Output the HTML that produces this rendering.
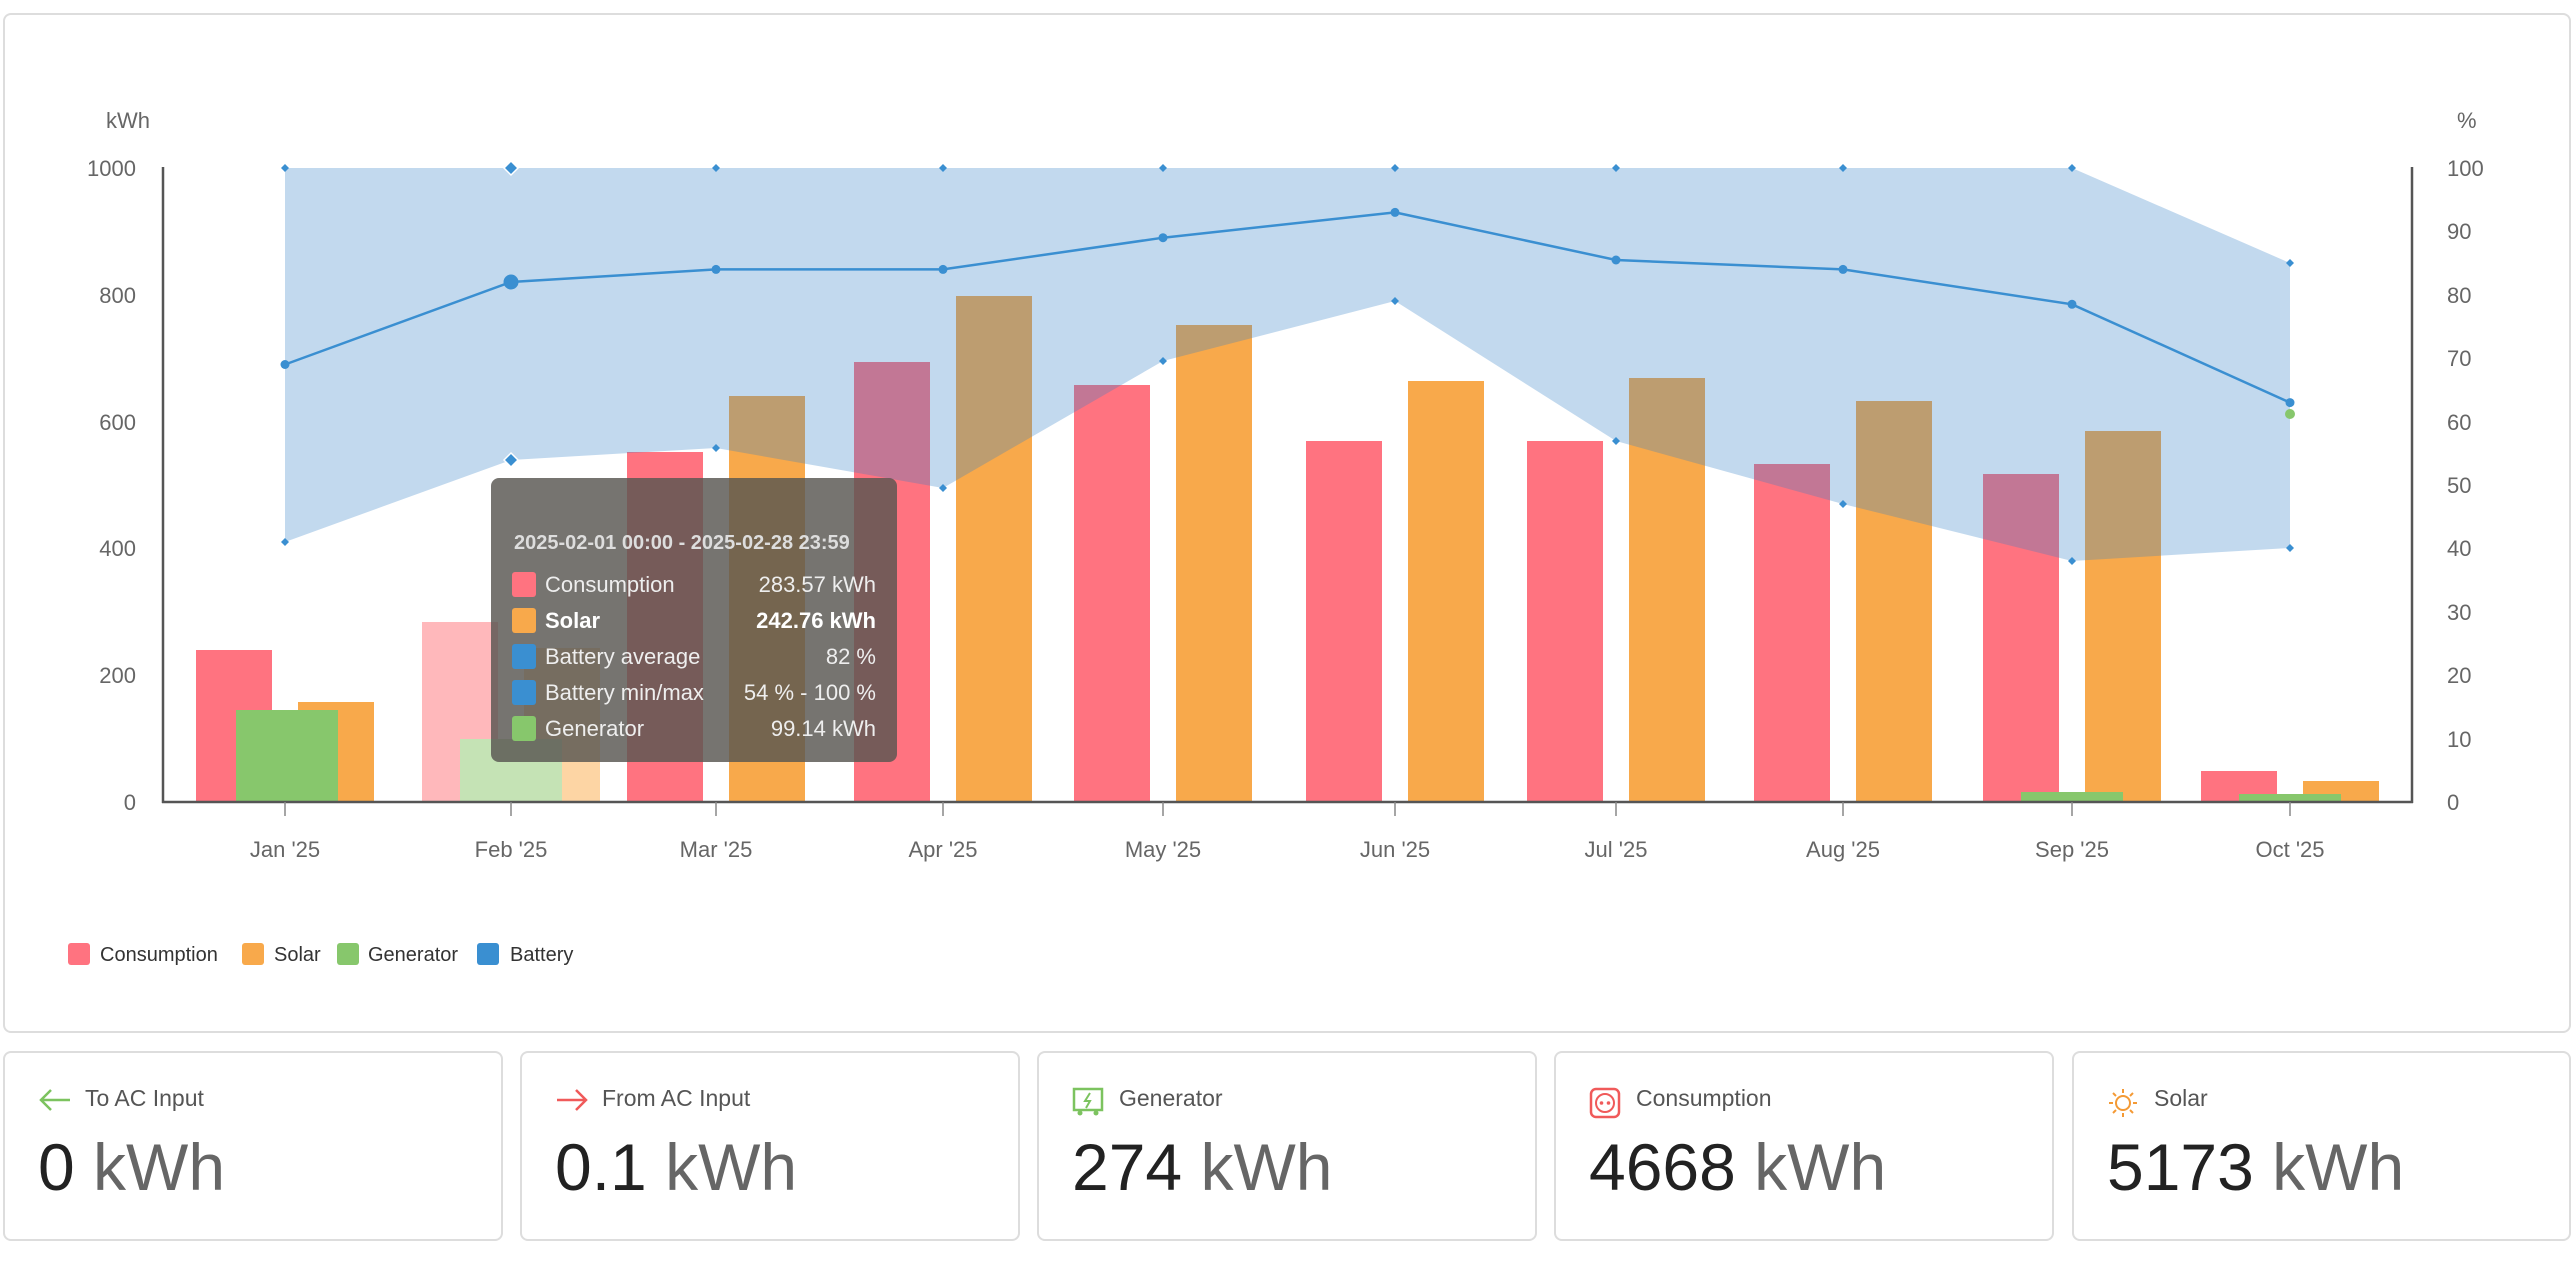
<!DOCTYPE html>
<html><head><meta charset="utf-8"><style>
body{margin:0;background:#fff;width:2576px;height:1284px;overflow:hidden;font-family:"Liberation Sans",sans-serif}
.card{position:absolute;border:2px solid #ddd;border-radius:8px;background:#fff;box-sizing:border-box}
.t{position:absolute;left:80px;top:32px;font-size:23px;color:#555}
.ic{position:absolute;left:33px;top:34px}
.v{position:absolute;left:33px;top:76px;font-size:66px;color:#222}
.v span{color:#666}
</style></head><body>
<div class="card" style="left:3px;top:13px;width:2568px;height:1020px"></div>
<svg style="position:absolute;left:0;top:0" width="2576" height="1040" font-family="Liberation Sans, sans-serif">
<g fill="#666" font-size="22">
<text x="106" y="128">kWh</text><text x="2457" y="128">%</text>
<g text-anchor="end"><text x="136" y="176">1000</text><text x="136" y="303">800</text><text x="136" y="430">600</text><text x="136" y="556">400</text><text x="136" y="683">200</text><text x="136" y="810">0</text></g>
<g><text x="2447" y="176">100</text><text x="2447" y="239">90</text><text x="2447" y="303">80</text><text x="2447" y="366">70</text><text x="2447" y="430">60</text><text x="2447" y="493">50</text><text x="2447" y="556">40</text><text x="2447" y="620">30</text><text x="2447" y="683">20</text><text x="2447" y="747">10</text><text x="2447" y="810">0</text></g>
<g text-anchor="middle"><text x="285" y="857">Jan '25</text><text x="511" y="857">Feb '25</text><text x="716" y="857">Mar '25</text><text x="943" y="857">Apr '25</text><text x="1163" y="857">May '25</text><text x="1395" y="857">Jun '25</text><text x="1616" y="857">Jul '25</text><text x="1843" y="857">Aug '25</text><text x="2072" y="857">Sep '25</text><text x="2290" y="857">Oct '25</text></g>
</g>
<!-- bars -->
<g>
<rect x="196" y="650" width="76" height="152" fill="#ff7380"/><rect x="298" y="702" width="76" height="100" fill="#f8a94b"/><rect x="236" y="710" width="102" height="92" fill="#87c76c"/>
<rect x="422" y="622" width="76" height="180" fill="#ffb8bb"/><rect x="524" y="648" width="76" height="154" fill="#fdd5a4"/><rect x="460" y="739" width="102" height="63" fill="#c5e3b5"/>
<rect x="627" y="452" width="76" height="350" fill="#ff7380"/><rect x="729" y="396" width="76" height="406" fill="#f8a94b"/>
<rect x="854" y="362" width="76" height="440" fill="#ff7380"/><rect x="956" y="296" width="76" height="506" fill="#f8a94b"/>
<rect x="1074" y="385" width="76" height="417" fill="#ff7380"/><rect x="1176" y="325" width="76" height="477" fill="#f8a94b"/>
<rect x="1306" y="441" width="76" height="361" fill="#ff7380"/><rect x="1408" y="381" width="76" height="421" fill="#f8a94b"/>
<rect x="1527" y="441" width="76" height="361" fill="#ff7380"/><rect x="1629" y="378" width="76" height="424" fill="#f8a94b"/>
<rect x="1754" y="464" width="76" height="338" fill="#ff7380"/><rect x="1856" y="401" width="76" height="401" fill="#f8a94b"/>
<rect x="1983" y="474" width="76" height="328" fill="#ff7380"/><rect x="2085" y="431" width="76" height="371" fill="#f8a94b"/><rect x="2021" y="792" width="102" height="10" fill="#87c76c"/>
<rect x="2201" y="771" width="76" height="31" fill="#ff7380"/><rect x="2303" y="781" width="76" height="21" fill="#f8a94b"/><rect x="2239" y="794" width="102" height="8" fill="#87c76c"/>
</g>
<polygon fill="rgba(52,130,200,0.3)" points="285,168 511,168 716,168 943,168 1163,168 1395,168 1616,168 1843,168 2072,168 2290,263 2290,548 2072,561 1843,504 1616,441 1395,301 1163,361 943,488 716,448 511,460 285,542"/>
<polyline fill="none" stroke="#3a8fd1" stroke-width="2.5" points="285,364.5 511,282 716,269.4 943,269.4 1163,237.7 1395,212.4 1616,260 1843,269.4 2072,304.3 2290,402.6"/>
<g fill="#3a8fd1">
<circle cx="285" cy="364.5" r="4.5"/><circle cx="511" cy="282" r="7.5"/><circle cx="716" cy="269.4" r="4.5"/><circle cx="943" cy="269.4" r="4.5"/><circle cx="1163" cy="237.7" r="4.5"/><circle cx="1395" cy="212.4" r="4.5"/><circle cx="1616" cy="260" r="4.5"/><circle cx="1843" cy="269.4" r="4.5"/><circle cx="2072" cy="304.3" r="4.5"/><circle cx="2290" cy="402.6" r="4.5"/>
<g transform="translate(0,0)">
<path d="M285 164l4 4-4 4-4-4z M716 164l4 4-4 4-4-4z M943 164l4 4-4 4-4-4z M1163 164l4 4-4 4-4-4z M1395 164l4 4-4 4-4-4z M1616 164l4 4-4 4-4-4z M1843 164l4 4-4 4-4-4z M2072 164l4 4-4 4-4-4z M2290 259l4 4-4 4-4-4z"/>
<path d="M511 161l7 7-7 7-7-7z M511 453l7 7-7 7-7-7z" stroke="#fff" stroke-width="1.5"/>
<path d="M285 538l4 4-4 4-4-4z M716 444l4 4-4 4-4-4z M943 484l4 4-4 4-4-4z M1163 357l4 4-4 4-4-4z M1395 297l4 4-4 4-4-4z M1616 437l4 4-4 4-4-4z M1843 500l4 4-4 4-4-4z M2072 557l4 4-4 4-4-4z M2290 544l4 4-4 4-4-4z"/>
</g></g>
<circle cx="2290" cy="414" r="5" fill="#87c76c"/>
<!-- axes -->
<g stroke="#555" stroke-width="2.5" fill="none">
<line x1="163" y1="167" x2="163" y2="803"/><line x1="2412" y1="167" x2="2412" y2="803"/><line x1="162" y1="802" x2="2413" y2="802"/>
</g>
<g stroke="#888" stroke-width="1.5">
<line x1="285" y1="802" x2="285" y2="816"/><line x1="511" y1="802" x2="511" y2="816"/><line x1="716" y1="802" x2="716" y2="816"/><line x1="943" y1="802" x2="943" y2="816"/><line x1="1163" y1="802" x2="1163" y2="816"/><line x1="1395" y1="802" x2="1395" y2="816"/><line x1="1616" y1="802" x2="1616" y2="816"/><line x1="1843" y1="802" x2="1843" y2="816"/><line x1="2072" y1="802" x2="2072" y2="816"/><line x1="2290" y1="802" x2="2290" y2="816"/>
</g>
<!-- tooltip -->
<rect x="491" y="478" width="406" height="284" rx="8" fill="rgba(88,86,80,0.82)"/>
<g font-size="22" fill="#eee">
<text x="514" y="549" font-weight="bold" font-size="20" fill="#ddd">2025-02-01 00:00 - 2025-02-28 23:59</text>
<rect x="512" y="572" width="24" height="25" rx="3" fill="#ff7380"/><text x="545" y="592">Consumption</text><text x="876" y="592" text-anchor="end">283.57 kWh</text>
<rect x="512" y="608" width="24" height="25" rx="3" fill="#f8a94b"/><text x="545" y="628" font-weight="bold" fill="#fff">Solar</text><text x="876" y="628" text-anchor="end" font-weight="bold" fill="#fff">242.76 kWh</text>
<rect x="512" y="644" width="24" height="25" rx="3" fill="#3a8fd1"/><text x="545" y="664">Battery average</text><text x="876" y="664" text-anchor="end">82 %</text>
<rect x="512" y="680" width="24" height="25" rx="3" fill="#3a8fd1"/><text x="545" y="700">Battery min/max</text><text x="876" y="700" text-anchor="end">54 % - 100 %</text>
<rect x="512" y="716" width="24" height="25" rx="3" fill="#87c76c"/><text x="545" y="736">Generator</text><text x="876" y="736" text-anchor="end">99.14 kWh</text>
</g>
<!-- legend -->
<g font-size="20" fill="#333">
<rect x="68" y="943" width="22" height="22" rx="3" fill="#ff7380"/><text x="100" y="961">Consumption</text>
<rect x="242" y="943" width="22" height="22" rx="3" fill="#f8a94b"/><text x="274" y="961">Solar</text>
<rect x="337" y="943" width="22" height="22" rx="3" fill="#87c76c"/><text x="368" y="961">Generator</text>
<rect x="477" y="943" width="22" height="22" rx="3" fill="#3a8fd1"/><text x="510" y="961">Battery</text>
</g>
</svg>

<div class="card" style="left:3px;top:1051px;width:500px;height:190px">
<svg class="ic" width="34" height="26"><path d="M32 13H3M13 3L3 13l10 10" stroke="#7cc35f" stroke-width="2.5" fill="none"/></svg>
<div class="t">To AC Input</div><div class="v">0 <span>kWh</span></div></div>
<div class="card" style="left:520px;top:1051px;width:500px;height:190px">
<svg class="ic" width="34" height="26"><path d="M2 13h29M21 3l10 10-10 10" stroke="#f05a5a" stroke-width="2.5" fill="none"/></svg>
<div class="t">From AC Input</div><div class="v">0.1 <span>kWh</span></div></div>
<div class="card" style="left:1037px;top:1051px;width:500px;height:190px">
<svg class="ic" width="34" height="30"><rect x="2" y="2" width="28" height="21" fill="none" stroke="#7cc35f" stroke-width="2.5"/><path d="M18 6l-5 8h5l-4 7" stroke="#7cc35f" stroke-width="2" fill="none"/><circle cx="8" cy="26" r="2.5" fill="#7cc35f"/><circle cx="24" cy="26" r="2.5" fill="#7cc35f"/></svg>
<div class="t">Generator</div><div class="v">274 <span>kWh</span></div></div>
<div class="card" style="left:1554px;top:1051px;width:500px;height:190px">
<svg class="ic" width="34" height="34"><rect x="2" y="2" width="28" height="28" rx="5" fill="none" stroke="#f05a5a" stroke-width="2.5"/><circle cx="16" cy="16" r="9" fill="none" stroke="#f05a5a" stroke-width="2"/><circle cx="12.5" cy="16" r="1.8" fill="#f05a5a"/><circle cx="19.5" cy="16" r="1.8" fill="#f05a5a"/></svg>
<div class="t">Consumption</div><div class="v">4668 <span>kWh</span></div></div>
<div class="card" style="left:2072px;top:1051px;width:499px;height:190px">
<svg class="ic" width="34" height="34"><circle cx="16" cy="16" r="7" fill="none" stroke="#f49a35" stroke-width="2"/><g stroke="#f49a35" stroke-width="2"><path d="M16 2v4M16 26v4M2 16h4M26 16h4M6 6l3 3M23 23l3 3M26 6l-3 3M6 26l3-3"/></g></svg>
<div class="t">Solar</div><div class="v">5173 <span>kWh</span></div></div>
</body></html>
